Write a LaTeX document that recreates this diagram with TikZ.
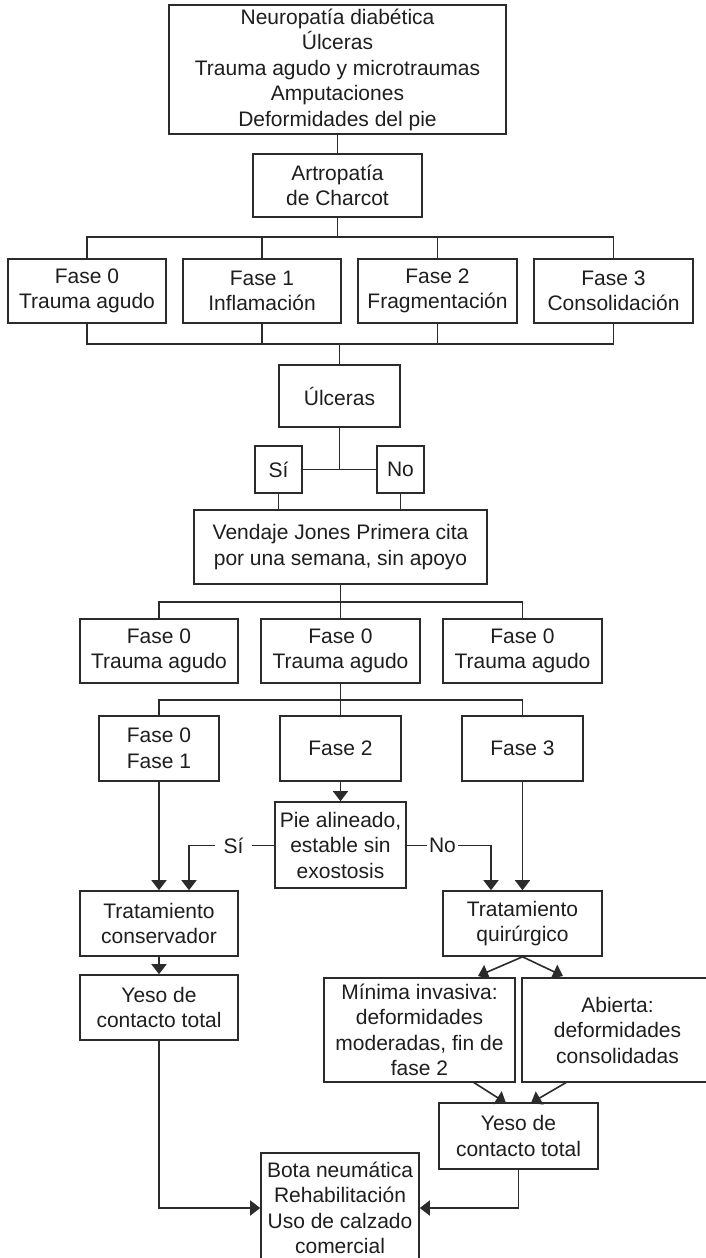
\documentclass[tikz,border=0pt]{standalone}
\usepackage{fontspec}
\setmainfont{Liberation Sans}
\usetikzlibrary{arrows.meta}
\definecolor{ln}{HTML}{2B2B2B}
\definecolor{tx}{HTML}{1E1E1E}
\newcommand\mybox[6]{\node[box, minimum width={(#4-#2)*0.5pt}, minimum height={(#5-#3)*0.5pt}] (#1) at ({(#2+#4)/2},{(#3+#5)/2}) {#6};}
\begin{document}
\begin{tikzpicture}[x=0.5pt,y=-0.5pt,
  box/.style={draw=ln, line width=0.8pt, text=tx, inner sep=0pt, align=center, font=\fontsize{10.5}{12.75}\selectfont},
  conn/.style={draw=ln, line width=0.8pt},
  arr/.style={conn, -{Triangle[width=7.5pt,length=5pt]}},
  lbl/.style={text=tx, inner sep=0pt, minimum height=10pt, font=\fontsize{10.5}{12.75}\selectfont}]
\useasboundingbox[fill=white] (0,0) rectangle (706,1258);
% nodes
\mybox{top}{169}{5}{506}{134}{Neuropatía diabética\\Úlceras\\Trauma agudo y microtraumas\\Amputaciones\\Deformidades del pie}
\mybox{art}{253}{154}{422}{217}{Artropatía\\de Charcot}
\mybox{f0}{8}{259}{166}{323}{Fase 0\\Trauma agudo}
\mybox{f1}{183}{259}{341}{323}{Fase 1\\Inflamación}
\mybox{f2}{358}{259}{517}{323}{Fase 2\\Fragmentación}
\mybox{f3}{534}{259}{693}{323}{Fase 3\\Consolidación}
\mybox{ulc}{279}{365}{400}{427}{Úlceras}
\mybox{si}{255}{446}{302}{493}{Sí}
\mybox{no}{377}{446}{424}{493}{No}
\mybox{ven}{194}{510}{487}{584}{Vendaje Jones Primera cita\\por una semana, sin apoyo}
\mybox{g0}{80}{619}{238}{683}{Fase 0\\Trauma agudo}
\mybox{g1}{261}{619}{420}{683}{Fase 0\\Trauma agudo}
\mybox{g2}{443}{619}{602}{683}{Fase 0\\Trauma agudo}
\mybox{h01}{99}{716}{219}{781}{Fase 0\\Fase 1}
\mybox{h2}{280}{716}{401}{781}{Fase 2}
\mybox{h3}{462}{716}{583}{781}{Fase 3}
\mybox{pie}{275}{802}{406}{888}{Pie alineado,\\estable sin\\exostosis}
\mybox{tcons}{80}{891}{238}{956}{Tratamiento\\conservador}
\mybox{tquir}{443}{891}{602}{956}{Tratamiento\\quirúrgico}
\mybox{yeso1}{80}{975}{238}{1040}{Yeso de\\contacto total}
\mybox{mini}{324}{978}{515}{1082}{Mínima invasiva:\\deformidades\\moderadas, fin de\\fase 2}
\mybox{abi}{522}{978}{713}{1082}{Abierta:\\deformidades\\consolidadas}
\mybox{yeso2}{439}{1103}{598}{1169}{Yeso de\\contacto total}
\mybox{bota}{261}{1153}{419}{1263}{Bota neumática\\Rehabilitación\\Uso de calzado\\comercial}
\node[lbl, minimum width=18.5pt] (silbl) at (233.5,845.5) {Sí};
\node[lbl, minimum width=15.5pt] (nolbl) at (442.5,845.5) {No};
% bus levels
\coordinate (b1) at (0,237);
\coordinate (b2) at (0,344);
\coordinate (b5) at (0,469.5);
\coordinate (b3) at (0,602);
\coordinate (b4) at (0,700);
\coordinate (sic) at (189,845.5);
\coordinate (noc) at (491,845.5);
\coordinate (qa) at (478,976);
\coordinate (qb) at (563,976);
\coordinate (ma) at (473,1082);
\coordinate (mt) at (506,1103);
\coordinate (aa) at (567,1082);
\coordinate (at) at (531,1103);
% connectors
\draw[conn] (top.south) -- (art.north);
\draw[conn] (art.south) -- (art.south |- b1);
\draw[conn] (f0.north) -- (f0.north |- b1) -- (f3.north |- b1) -- (f3.north);
\draw[conn] (f1.north) -- (f1.north |- b1);
\draw[conn] (f2.north) -- (f2.north |- b1);
\draw[conn] (f0.south) -- (f0.south |- b2) -- (f3.south |- b2) -- (f3.south);
\draw[conn] (f1.south) -- (f1.south |- b2);
\draw[conn] (f2.south) -- (f2.south |- b2);
\draw[conn] (ulc.north |- b2) -- (ulc.north);
\draw[conn] (ulc.south) -- (ulc.south |- b5);
\draw[conn] (si.east) -- (no.west);
\draw[conn] (si.south) -- (si.south |- ven.north);
\draw[conn] (no.south) -- (no.south |- ven.north);
\draw[conn] (ven.south) -- (ven.south |- b3);
\draw[conn] (g0.north) -- (g0.north |- b3) -- (g2.north |- b3) -- (g2.north);
\draw[conn] (g1.north) -- (g1.north |- b3);
\draw[conn] (g1.south) -- (g1.south |- b4);
\draw[conn] (h01.north) -- (h01.north |- b4) -- (h3.north |- b4) -- (h3.north);
\draw[conn] (h2.north) -- (h2.north |- b4);
\draw[arr] (h2.south) -- (pie.north);
\draw[arr] (h01.south) -- (h01.south |- tcons.north);
\draw[arr] (h3.south) -- (h3.south |- tquir.north);
\draw[conn] (pie.west |- silbl.east) -- (silbl.east);
\draw[arr] (silbl.west) -- (sic) -- (sic |- tcons.north);
\draw[conn] (pie.east |- nolbl.west) -- (nolbl.west);
\draw[arr] (nolbl.east) -- (noc) -- (noc |- tquir.north);
\draw[arr] (tcons.south) -- (yeso1.north);
\draw[arr] (tquir.south) -- (qa);
\draw[arr] (tquir.south) -- (qb);
\draw[arr] (ma) -- (mt);
\draw[arr] (aa) -- (at);
\draw[arr] (yeso1.south) |- (bota.west);
\draw[arr] (yeso2.south) |- (bota.east);
\end{tikzpicture}
\end{document}
